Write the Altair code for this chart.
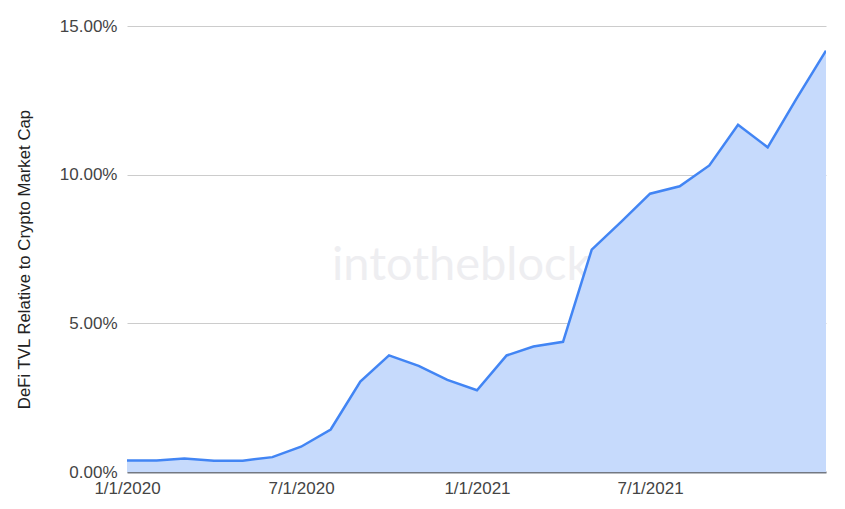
import altair as alt
import pandas as pd

dates = [
    "2020-01-01", "2020-02-01", "2020-03-01", "2020-04-01", "2020-05-01", "2020-06-01",
    "2020-07-01", "2020-08-01", "2020-09-01", "2020-10-01", "2020-11-01", "2020-12-01",
    "2021-01-01", "2021-02-01", "2021-03-01", "2021-04-01", "2021-05-01", "2021-06-01",
    "2021-07-01", "2021-08-01", "2021-09-01", "2021-10-01", "2021-11-01", "2021-12-01",
    "2022-01-01",
]
tvl_pct = [
    0.39, 0.39, 0.45, 0.38, 0.38, 0.50,
    0.85, 1.43, 3.04, 3.92, 3.57, 3.10,
    2.75, 3.92, 4.22, 4.38, 7.48, 8.42,
    9.36, 9.61, 10.31, 11.68, 10.92, 12.55,
    14.17,
]
tick_dates = ["2020-01-01", "2020-07-01", "2021-01-01", "2021-07-01"]
y_ticks = [0, 0.05, 0.10, 0.15]

df = pd.DataFrame({"date": dates, "value": [v / 100 for v in tvl_pct]})

FONT = "Liberation Sans"

x_enc = alt.X(
    "date:T",
    scale=alt.Scale(type="utc", domain=["2020-01-01", "2022-01-01"], nice=False),
    axis=alt.Axis(
        values=[alt.DateTime(year=int(d[:4]), month=int(d[5:7]), date=1, utc=True) for d in tick_dates],
        labelExpr="utcFormat(datum.value, '%-m/%-d/%Y')",
        title=None,
        grid=False,
        ticks=False,
        domain=True,
        domainColor="#737882",
        domainWidth=2,
        labelFont=FONT,
        labelFontSize=17,
        labelColor="#444444",
        labelPadding=8,
        labelFlush=False,
    ),
)
y_enc = alt.Y(
    "value:Q",
    scale=alt.Scale(domain=[0, 0.15], nice=False),
    axis=alt.Axis(
        values=y_ticks,
        format=".2%",
        title="DeFi TVL Relative to Crypto Market Cap",
        titleFont=FONT,
        titleFontSize=16.8,
        titleFontWeight="normal",
        titleColor="#222222",
        titlePadding=26,
        titleY=233,
        labelFont=FONT,
        labelFontSize=17,
        labelColor="#444444",
        labelPadding=10,
        ticks=False,
        domain=False,
        grid=True,
        gridColor="#cccccc",
        gridWidth=1,
    ),
)

watermark = alt.Chart(pd.DataFrame({"t": ["intotheblock"]})).mark_text(
    font="Lato", fontSize=47, color="#eeeef1", align="left", baseline="alphabetic"
).encode(text="t:N", x=alt.value(205), y=alt.value(254))

area = alt.Chart(df).mark_area(color="#c6dafc", opacity=1).encode(x=x_enc, y=y_enc)
line = alt.Chart(df).mark_line(color="#4285f4", strokeWidth=2.5, clip=True).encode(x="date:T", y="value:Q")

chart = alt.layer(watermark, area, line).properties(
    width=699,
    height=446,
    autosize=alt.AutoSizeParams(type="none"),
    padding={"left": 119, "top": 18, "right": 11, "bottom": 29},
).configure_view(stroke=None)

chart.save("out.html", embed_options={"renderer": "svg", "actions": False})
